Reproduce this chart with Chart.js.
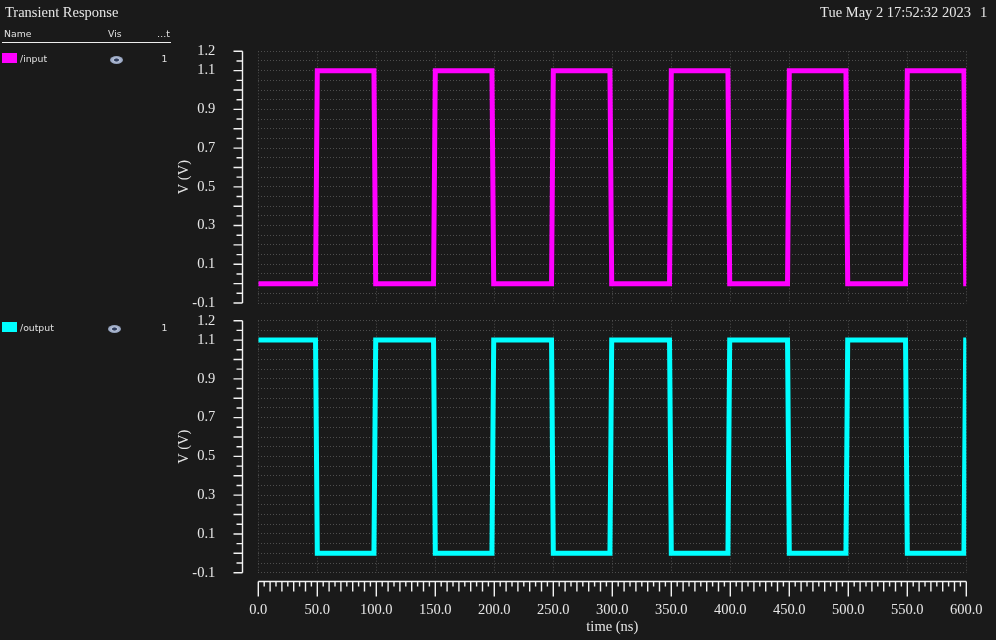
<!DOCTYPE html>
<html><head><meta charset="utf-8">
<script src="https://cdn.jsdelivr.net/npm/chart.js@4.4.0/dist/chart.umd.min.js"></script>
<style>
html,body{margin:0;padding:0;background:#1a1a1a;width:996px;height:640px;overflow:hidden;}
#wrap{position:relative;width:996px;height:640px;}
canvas{position:absolute;left:0;top:0;}
.t{position:absolute;white-space:nowrap;color:#e6e6e6;}
.serif{font-family:"Liberation Serif",serif;font-size:14.5px;line-height:16px;}
.sans{font-family:"DejaVu Sans",sans-serif;font-size:9.3px;line-height:11px;color:#e0e0e0;}
.sw{position:absolute;width:15px;height:10px;}
.eye{position:absolute;width:13px;height:8px;border-radius:50%;background:radial-gradient(ellipse at 50% 50%, #2e3c5c 0 2px, #b4bfd6 3px, #7484a4 100%);}
</style></head><body>
<div id="wrap">
  <canvas id="cIn" width="996" height="640"></canvas>
  <canvas id="cOut" width="996" height="640"></canvas>
  <div class="t serif" style="left:5px;top:4px">Transient Response</div>
  <div class="t serif" style="right:25px;top:4px">Tue May 2 17:52:32 2023</div>
  <div class="t serif" style="left:980px;top:4px">1</div>
  <div class="t sans" style="left:4px;top:28px">Name</div>
  <div class="t sans" style="left:108px;top:28px">Vis</div>
  <div class="t sans" style="left:157px;top:28px">…t</div>
  <div style="position:absolute;left:2px;top:41.5px;width:169px;height:1.5px;background:#eeeeee"></div>
  <div class="sw" style="left:2px;top:53px;background:#ff00ff"></div>
  <div class="t sans" style="left:20px;top:53.3px">/input</div>
  <div class="eye" style="left:110px;top:56px"></div>
  <div class="t sans" style="left:161.5px;top:53.3px">1</div>
  <div class="sw" style="left:2px;top:322px;background:#00ffff"></div>
  <div class="t sans" style="left:20px;top:322px">/output</div>
  <div class="eye" style="left:108px;top:325px"></div>
  <div class="t sans" style="left:161.5px;top:322px">1</div>
</div>
<script>
// ---- data ----
const timeNs  = [0, 48.5, 50, 98, 99.5, 148.5, 150, 198, 199.5, 248.5, 250, 298, 299.5, 348.5, 350, 398, 399.5, 448.5, 450, 498, 499.5, 548.5, 550, 598, 599.5, 600];
const inputV  = [0, 0, 1.1, 1.1, 0, 0, 1.1, 1.1, 0, 0, 1.1, 1.1, 0, 0, 1.1, 1.1, 0, 0, 1.1, 1.1, 0, 0, 1.1, 1.1, 0, 0];
const outputV = [1.1, 1.1, 0, 0, 1.1, 1.1, 0, 0, 1.1, 1.1, 0, 0, 1.1, 1.1, 0, 0, 1.1, 1.1, 0, 0, 1.1, 1.1, 0, 0, 1.1, 1.1];
const xTickLabels = ['0.0','50.0','100.0','150.0','200.0','250.0','300.0','350.0','400.0','450.0','500.0','550.0','600.0'];
const yTickLabels = ['1.2','1.1','0.9','0.7','0.5','0.3','0.1','-0.1'];

const xTickValues = xTickLabels.map(parseFloat);
const yGridValues = [];
for (let i = -2; i <= 24; i++) yGridValues.push(Number((i * 0.05).toFixed(2)));
const isTenth = v => Math.abs(v * 10 - Math.round(v * 10)) < 1e-6;

const TXT = '#e6e6e6';
const FONT = {family: '"Liberation Serif", serif', size: 14.5};
const PLOT_LEFT = 258.3, PLOT_RIGHT = 966.3;

const axisPlugin = {
  id: 'axes',
  afterDraw(chart, args, opts) {
    const ctx = chart.ctx, ys = chart.scales.y, xs = chart.scales.x;
    ctx.save();
    ctx.strokeStyle = '#f2f2f2';
    ctx.lineWidth = 1.4;
    const ax = 242.5;
    ctx.beginPath();
    ctx.moveTo(ax, ys.getPixelForValue(1.2));
    ctx.lineTo(ax, ys.getPixelForValue(-0.1));
    for (const v of yGridValues) {
      const p = ys.getPixelForValue(v);
      ctx.moveTo(isTenth(v) ? ax - 9 : ax - 6, p);
      ctx.lineTo(ax, p);
    }
    if (opts.xAxis) {
      const ay = 581.5;
      ctx.moveTo(xs.getPixelForValue(0), ay);
      ctx.lineTo(xs.getPixelForValue(600), ay);
      for (let t = 0; t <= 600; t += 5) {
        const p = xs.getPixelForValue(t);
        const len = (t % 50 === 0) ? 15 : (t % 10 === 0 ? 10 : 5);
        ctx.moveTo(p, ay);
        ctx.lineTo(p, ay + len);
      }
    }
    ctx.stroke();
    ctx.restore();
  }
};

function yLabel(v) {
  if (!isTenth(v)) return '';
  const s = v.toFixed(1);
  return yTickLabels.includes(s) ? s : '';
}

function makeChart(id, values, color, top, bottom, showX) {
  return new Chart(document.getElementById(id), {
    type: 'line',
    data: {
      datasets: [{
        data: timeNs.map((t, i) => ({x: t, y: values[i]})),
        borderColor: color,
        borderWidth: 5,
        borderJoinStyle: 'miter',
        pointRadius: 0,
        tension: 0,
        fill: false
      }]
    },
    options: {
      responsive: false,
      devicePixelRatio: 1,
      animation: false,
      events: [],
      layout: {padding: {top: top, bottom: showX ? 0 : 640 - bottom, left: 0, right: 996 - PLOT_RIGHT}},
      plugins: {legend: {display: false}, tooltip: {enabled: false}, axes: {xAxis: showX}},
      scales: {
        x: {
          type: 'linear', min: 0, max: 600,
          afterBuildTicks: s => { s.ticks = xTickValues.map(v => ({value: v})); },
          afterFit: s => { s.height = showX ? 640 - bottom : 0; s.paddingLeft = 0; s.paddingRight = 0; },
          ticks: {display: showX, autoSkip: false, maxRotation: 0, padding: 29, color: TXT, font: FONT,
                  callback: (v, i) => xTickLabels[i]},
          grid: {color: '#4d4d4d', lineWidth: 1, drawTicks: false},
          border: {display: false, dash: [1, 2]},
          title: {display: showX, text: 'time (ns)', color: TXT, font: FONT, padding: {top: 0, bottom: 4.3}}
        },
        y: {
          type: 'linear', min: -0.1, max: 1.2,
          afterBuildTicks: s => { s.ticks = yGridValues.map(v => ({value: v})); },
          afterFit: s => { s.width = PLOT_LEFT; s.paddingTop = 0; s.paddingBottom = 0; },
          ticks: {autoSkip: false, padding: 43, color: TXT, font: FONT, callback: v => yLabel(v)},
          grid: {color: '#4d4d4d', lineWidth: 1, drawTicks: false},
          border: {display: false, dash: [1, 2]},
          title: {display: true, text: 'V (V)', color: TXT, font: FONT, padding: {top: 175.3, bottom: 0}}
        }
      }
    },
    plugins: [axisPlugin]
  });
}

makeChart('cIn', inputV, '#ff00ff', 51.3, 303, false);
makeChart('cOut', outputV, '#00ffff', 320.7, 572.7, true);
</script>
</body></html>
